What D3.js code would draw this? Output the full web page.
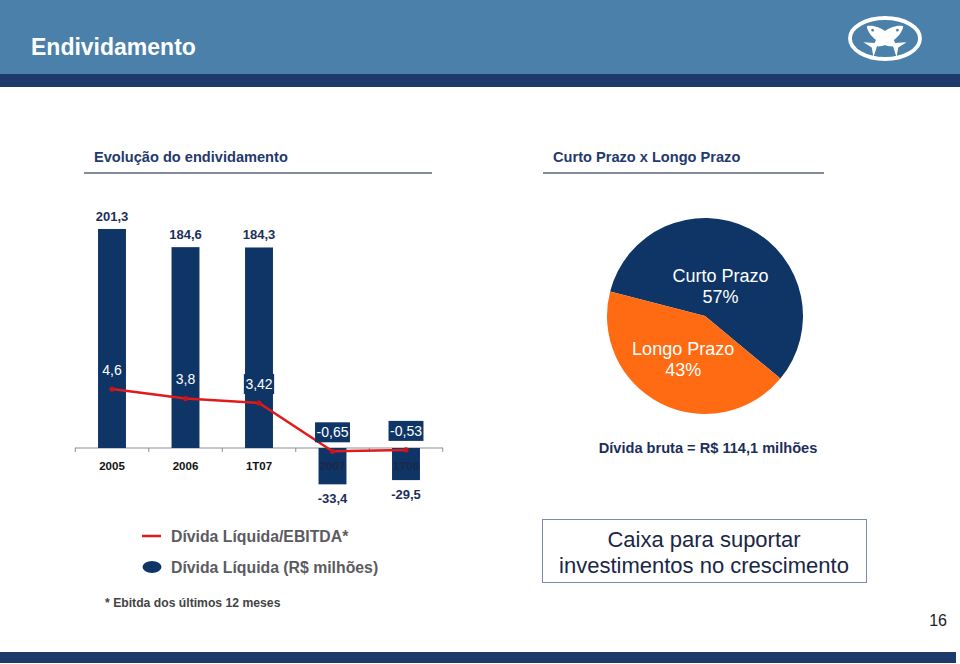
<!DOCTYPE html>
<html><head><meta charset="utf-8">
<script src="https://cdn.jsdelivr.net/npm/d3@7"></script>
<style>
html,body{margin:0;padding:0;background:#fff;}
svg{display:block;font-family:"Liberation Sans",Arial,sans-serif;}
</style></head>
<body>
<svg id="c" width="960" height="664"></svg>
<script>
// ---- data ----
const categories = ["2005", "2006", "1T07", "2007", "1T08"];
const dividaLiquida = [201.3, 184.6, 184.3, -33.4, -29.5];        // R$ milhões
const dividaEbitda = [4.6, 3.8, 3.42, -0.65, -0.53];              // Dívida Líquida/EBITDA
const pieLabels = ["Curto Prazo", "Longo Prazo"];
const pieValues = [57, 43];
const legendLabels = ["Dívida Líquida/EBITDA*", "Dívida Líquida (R$ milhões)"];

const NAVY = "#0e3566", ORANGE = "#ff6b12", RED = "#e01b1b", TXT = "#1c2f5a";
const fmt = v => String(v).replace(".", ",");

const svg = d3.select("#c");

// ---- header ----
svg.append("rect").attr("x", 0).attr("y", 0).attr("width", 960).attr("height", 74).attr("fill", "#4a80a9");
svg.append("rect").attr("x", 0).attr("y", 74).attr("width", 960).attr("height", 13).attr("fill", "#1e3a6a");
svg.append("text").attr("x", 31).attr("y", 55).attr("fill", "#fff")
  .attr("font-size", 23).attr("font-weight", "bold").text("Endividamento");
// logo
const logo = svg.append("g").attr("transform", "translate(885,38.5)");
logo.append("ellipse").attr("rx", 35).attr("ry", 20.5).attr("fill", "none").attr("stroke", "#fff").attr("stroke-width", 3.8);
const fishPath = "M0,-22 C8,-15 8,4 2,11 L9,20 L0,16 L-9,20 L-2,11 C-8,4 -8,-15 0,-22 Z";
[-56, 56].forEach(a => {
  const f = logo.append("g").attr("transform", `rotate(${a})`);
  f.append("path").attr("d", fishPath).attr("fill", "#fff");
  f.append("circle").attr("cx", 0).attr("cy", -15).attr("r", 1.4).attr("fill", "#4a80a9");
});

// bottom band & page number
svg.append("rect").attr("x", 0).attr("y", 652).attr("width", 956).attr("height", 11).attr("fill", "#1e3a6a");
svg.append("text").attr("x", 947).attr("y", 626).attr("text-anchor", "end").attr("font-size", 16).attr("fill", "#222").text("16");

// section titles
[[94, 84, 432, "Evolução do endividamento"], [553, 543, 824, "Curto Prazo x Longo Prazo"]].forEach(([tx, x1, x2, t]) => {
  svg.append("text").attr("x", tx).attr("y", 162).attr("font-size", 14.6).attr("font-weight", "bold").attr("fill", "#1f3a6b").text(t);
  svg.append("line").attr("x1", x1).attr("x2", x2).attr("y1", 173).attr("y2", 173).attr("stroke", "#5a6678").attr("stroke-width", 1.5);
});

// ---- bar + line chart ----
const x = d3.scaleBand().domain(categories).range([75.25, 442.75]).paddingInner(0.62).paddingOuter(0.31);
const y = d3.scaleLinear().domain([-40, 220]).range([448 + 40 * 1.088, 448 - 220 * 1.088]);
const y2 = d3.scaleLinear().domain([-1, 5]).range([443.6 + 11.86, 443.6 - 5 * 11.86]);
const cx = c => x(c) + x.bandwidth() / 2;

// axis line with ticks at slot boundaries
const step = x.step();
svg.append("line").attr("x1", 75).attr("x2", 443).attr("y1", y(0)).attr("y2", y(0)).attr("stroke", "#8a8f99").attr("stroke-width", 1);
d3.range(categories.length + 1).forEach(i => {
  const tx = 75.25 + i * step;
  svg.append("line").attr("x1", tx).attr("x2", tx).attr("y1", y(0)).attr("y2", y(0) + 4).attr("stroke", "#8a8f99");
});

svg.append("g").selectAll("rect").data(categories).join("rect")
  .attr("x", c => x(c)).attr("width", x.bandwidth())
  .attr("y", (c, i) => y(Math.max(0, dividaLiquida[i])))
  .attr("height", (c, i) => Math.abs(y(dividaLiquida[i]) - y(0)))
  .attr("fill", NAVY);

// category labels
svg.append("g").selectAll("text").data(categories).join("text")
  .attr("x", cx).attr("y", 470).attr("text-anchor", "middle")
  .attr("font-size", 11.5).attr("font-weight", "bold")
  .attr("fill", (c, i) => dividaLiquida[i] < 0 ? "#1a2848" : "#111").text(c => c);

// bar value labels
svg.append("g").selectAll("text").data(categories).join("text")
  .attr("x", cx).attr("text-anchor", "middle")
  .attr("y", (c, i) => dividaLiquida[i] >= 0 ? y(dividaLiquida[i]) - 8 : y(dividaLiquida[i]) + 19)
  .attr("font-size", 13).attr("font-weight", "bold").attr("fill", TXT)
  .text((c, i) => fmt(dividaLiquida[i]));

// line
const line = d3.line().x((d, i) => cx(categories[i])).y(d => y2(d));
svg.append("path").datum(dividaEbitda).attr("d", line).attr("fill", "none").attr("stroke", RED).attr("stroke-width", 2.5);
svg.append("g").selectAll("circle").data(dividaEbitda).join("circle")
  .attr("cx", (d, i) => cx(categories[i])).attr("cy", d => y2(d)).attr("r", 2.6).attr("fill", "#c8141a");

// line labels with boxes
const lbl = svg.append("g").selectAll("g").data(dividaEbitda).join("g")
  .attr("transform", (d, i) => `translate(${cx(categories[i])},${y2(d) - 19})`);
lbl.append("text").attr("text-anchor", "middle").attr("dy", "0.35em")
  .attr("font-size", 14).attr("fill", "#fff").text(d => fmt(d));
lbl.each(function () {
  const g = d3.select(this);
  const w = g.select("text").node().getComputedTextLength() + 3;
  g.insert("rect", "text").attr("x", -w / 2).attr("y", -10).attr("width", w).attr("height", 20).attr("fill", NAVY);
});

// ---- legend ----
svg.append("line").attr("x1", 142).attr("x2", 161).attr("y1", 536).attr("y2", 536).attr("stroke", RED).attr("stroke-width", 2.5);
svg.append("ellipse").attr("cx", 152).attr("cy", 567).attr("rx", 9.5).attr("ry", 6).attr("fill", NAVY);
legendLabels.forEach((t, i) => {
  svg.append("text").attr("x", 171).attr("y", 541.5 + i * 31).attr("font-size", 15.8).attr("font-weight", "bold")
    .attr("fill", "#5b5b5f").text(t);
});
svg.append("text").attr("x", 105).attr("y", 607).attr("font-size", 12.2).attr("font-weight", "bold")
  .attr("fill", "#444").text("* Ebitda dos últimos 12 meses");

// ---- pie ----
const startA = -75.5 * Math.PI / 180;
const pie = d3.pie().sort(null).startAngle(startA).endAngle(startA + 2 * Math.PI);
const arcs = pie(pieValues);
const R = 98;
const arc = d3.arc().innerRadius(0).outerRadius(R);
const pg = svg.append("g").attr("transform", "translate(705,316)");
pg.selectAll("path").data(arcs).join("path").attr("d", arc).attr("fill", (d, i) => i === 0 ? NAVY : ORANGE);
const labelR = [34, 48];
arcs.forEach((a, i) => {
  const [lx, ly] = d3.arc().innerRadius(labelR[i]).outerRadius(labelR[i]).centroid(a);
  const t = pg.append("text").attr("text-anchor", "middle").attr("font-size", 18).attr("fill", "#fff");
  t.append("tspan").attr("x", lx).attr("y", ly - 4).text(pieLabels[i]);
  t.append("tspan").attr("x", lx).attr("y", ly + 17).text(pieValues[i] + "%");
});
svg.append("text").attr("x", 708).attr("y", 453).attr("text-anchor", "middle").attr("font-size", 14.6)
  .attr("font-weight", "bold").attr("fill", TXT).text("Dívida bruta = R$ 114,1 milhões");

// ---- box ----
svg.append("rect").attr("x", 542.5).attr("y", 519.5).attr("width", 324).attr("height", 63)
  .attr("fill", "#fff").attr("stroke", "#7b8ca6").attr("stroke-width", 1);
["Caixa para suportar", "investimentos no crescimento"].forEach((t, i) => {
  svg.append("text").attr("x", 704).attr("y", 547 + i * 26).attr("text-anchor", "middle")
    .attr("font-size", 22).attr("fill", "#1a2745").text(t);
});
</script>
</body></html>
